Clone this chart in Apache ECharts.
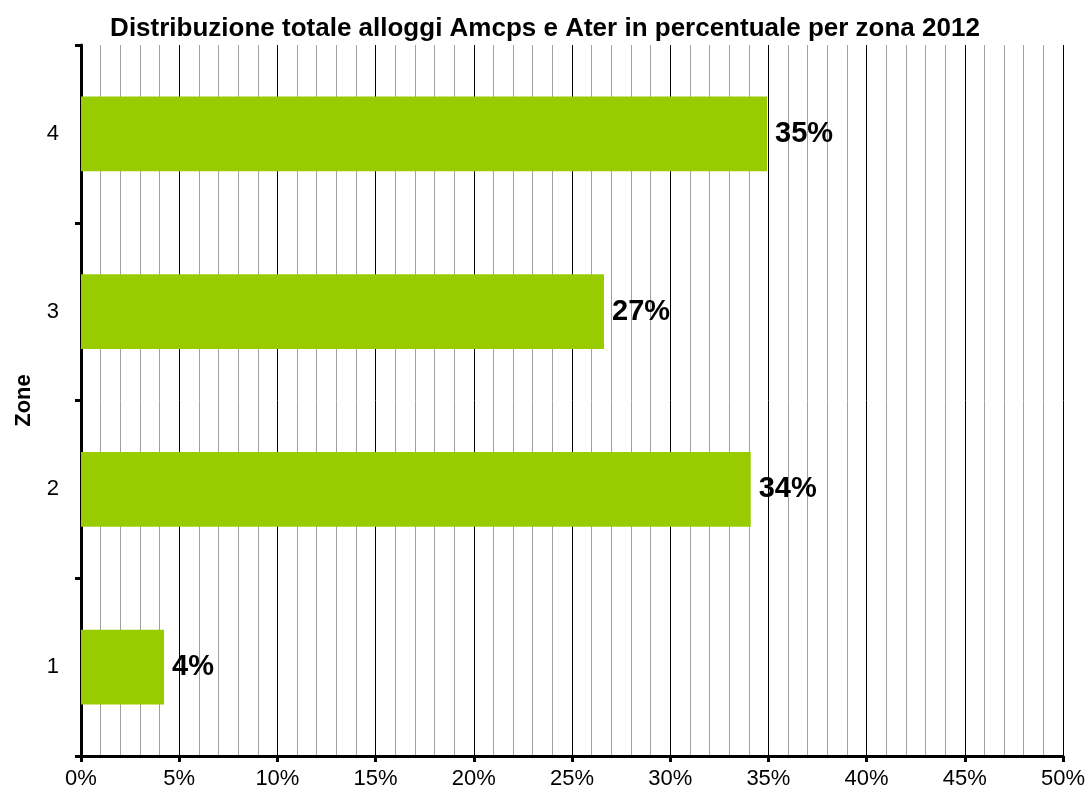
<!DOCTYPE html>
<html><head><meta charset="utf-8">
<script src="https://cdn.jsdelivr.net/npm/echarts@6/dist/echarts.min.js"></script>
<style>html,body{margin:0;padding:0;background:#fff}#c{width:1090px;height:801px}</style>
</head><body><div id="c"></div>
<script>
const titleText = "Distribuzione totale alloggi Amcps e Ater in percentuale per zona 2012";
const categories = ["1", "2", "3", "4"];
const values = [4.23, 34.1, 26.63, 34.93];
const xTicks = [0, 5, 10, 15, 20, 25, 30, 35, 40, 45, 50];
const yName = "Zone";

const chart = echarts.init(document.getElementById('c'));
chart.setOption({
  animation: false,
  title: { text: titleText, left: 'center', top: 11,
    textStyle: { fontFamily: 'Liberation Sans, Arial', fontWeight: 'bold', fontSize: 26, color: '#000' } },
  grid: { left: 81, right: 27, top: 45, bottom: 45 },
  xAxis: {
    type: 'value', min: xTicks[0], max: xTicks[xTicks.length - 1], interval: 5,
    axisLine: { show: true, lineStyle: { color: '#000', width: 3 } },
    axisTick: { show: true, length: 6, lineStyle: { color: '#000', width: 3 } },
    axisLabel: { formatter: v => v + '%', fontFamily: 'Liberation Sans, Arial', fontSize: 22, color: '#000', margin: 12 },
    splitLine: { show: true, lineStyle: { color: '#000', width: 1 } },
    minorTick: { show: false, splitNumber: 5 },
    minorSplitLine: { show: true, lineStyle: { color: '#a0a0a0', width: 1 } }
  },
  yAxis: {
    type: 'category', data: categories,
    name: yName, nameLocation: 'middle', nameGap: 46, nameRotate: 90,
    nameTextStyle: { fontFamily: 'Liberation Sans, Arial', fontWeight: 'bold', fontSize: 22, color: '#000' },
    axisLine: { show: true, lineStyle: { color: '#000', width: 3 } },
    axisTick: { show: true, length: 6, alignWithLabel: false, lineStyle: { color: '#000', width: 3 } },
    axisLabel: { fontFamily: 'Liberation Sans, Arial', fontSize: 22, color: '#000', margin: 22 },
    splitLine: { show: false }
  },
  series: [{
    type: 'bar', data: values, barCategoryGap: '58%',
    itemStyle: { color: '#99cc00' },
    label: { show: true, position: 'right', distance: 8, formatter: p => Math.round(p.value) + '%',
      fontFamily: 'Liberation Sans, Arial', fontWeight: 'bold', fontSize: 29, color: '#000' }
  }]
});
</script></body></html>
